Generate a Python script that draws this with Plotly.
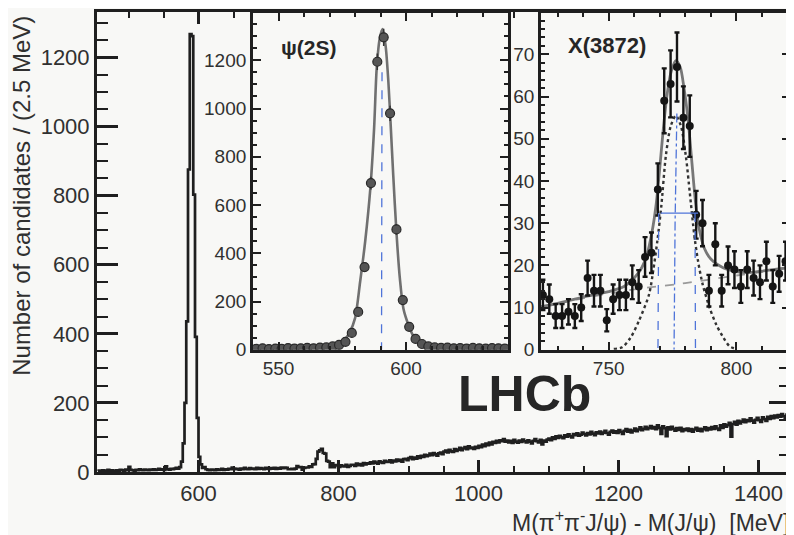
import numpy as np
import plotly.graph_objects as go

# ---------------- main histogram: M(pi pi J/psi) - M(J/psi), 2.5 MeV bins from 455 MeV ----------------
main_bin_start = 455.0
bin_width = 2.5

main_counts_low = [3, 4, 2, 5, 3, 4, 6, 3, 5, 4, 3, 5, 4, 6, 5, 4, 7, 5, 15, 6,
                   5, 4, 6, 5, 8, 6, 5, 7, 6, 5, 7, 6, 8, 6, 7, 9, 7, 8, 6, 16,
                   8, 7, 9, 8, 10, 12]
main_counts_psi = [10, 14, 30, 83, 200, 436, 876, 1268, 1262, 803, 391, 157, 44, 22, 12]
main_counts_mid = [14, 8, 6, 5, 7, 6, 5, 8, 6, 7, 9, 6, 8, 7, 9, 8, 13, 10, 8, 9,
                   7, 10, 8, 12, 9, 8, 11, 9, 10, 8, 12, 9, 11, 10, 8, 12, 10, 9, 11, 10,
                   12, 9, 11, 10, 13, 11]
main_counts_high = [21, 18, 24, 20, 23, 19, 26, 22, 25, 24,
                    28, 25, 30, 27, 24, 31, 28, 26, 32, 29,
                    30, 34, 28, 33, 31, 36, 32, 35, 30, 37,
                    38, 34, 40, 43, 37, 42, 39, 45, 41, 47,
                    44, 50, 46, 48, 53, 49, 55, 51, 47, 54,
                    56, 52, 59, 62, 57, 64, 60, 58, 66, 61,
                    65, 70, 63, 68, 72, 66, 74, 69, 71, 67,
                    73, 70, 76, 72, 79, 75, 82, 78, 85, 80,
                    87, 84, 90, 86, 92, 89, 95, 88, 91, 86,
                    90, 84, 93, 88, 85, 91, 87, 94, 89, 86,
                    92, 88, 83, 90, 95, 89, 86, 93, 80, 91,
                    88, 94, 97, 92, 100, 96, 103, 99, 105, 101,
                    98, 106, 102, 109, 104, 100, 110, 107, 112, 105,
                    108, 114, 110, 106, 113, 109, 116, 111, 107, 115,
                    112, 117, 110, 114, 119, 113, 108, 116, 120, 114,
                    118, 113, 121, 116, 110, 119, 124, 117, 122, 115,
                    120, 126, 118, 123, 129, 121, 125, 131, 124, 128,
                    133, 126, 130, 124, 135, 128, 110, 132, 127, 104,
                    129, 123, 131, 125, 120, 127, 122, 128, 118, 124,
                    121, 126, 119, 124, 117, 123, 128, 120, 125, 118,
                    124, 129, 121, 127, 123, 130, 125, 132, 126, 122,
                    135, 128, 138, 131, 136, 142, 102, 139, 145, 137,
                    148, 141, 146, 152, 144, 150, 147, 155, 149, 143,
                    151, 157, 150, 145, 158, 153, 148, 160, 154, 162,
                    156, 163, 158, 165, 160, 168, 162, 157, 166, 170]

# ---------------- inset 1: psi(2S) ----------------
psi_bin_start = 540.0
psi_counts = [4, 6, 3, 5, 4, 7, 5, 6, 8, 6, 9, 10, 14, 20, 33, 70, 157, 343, 691, 1194,
              1295, 980, 499, 206, 95, 45, 24, 14, 10, 8, 9, 6, 7, 5, 8, 6, 5, 7, 6, 5]
psi_fit_x = [540, 555, 565, 570, 574, 576, 578, 580, 582, 584, 586, 587.5, 588.5, 589.7, 590.8,
             592, 593.1, 594, 595, 596.3, 597.6, 599, 601, 603, 605.5, 609, 613, 625, 640]
psi_fit_y = [4, 5, 9, 15, 25, 42, 74, 130, 281, 450, 667, 920, 1164, 1290, 1329,
             1260, 1109, 930, 723, 480, 295, 170, 102, 55, 33, 15, 8, 5, 4]

# ---------------- inset 2: X(3872) ----------------
x_bin_start = 723.0
x_counts = [13, 12, 8, 8, 9, 8, 10, 17, 14, 14, 7, 12, 13, 13, 16, 15, 22, 23, 38, 59,
            63, 67, 55, 53, 32, 30, 14, 25, 14, 20, 19, 15, 19, 17, 16, 21, 15, 18, 21]
x_total_x = [723.5, 730, 740, 750, 756, 760, 763, 765, 767, 768.5, 770, 771.5, 773, 774.5, 776.3,
             778, 779.5, 781, 782.5, 784, 785.5, 787.5, 790, 795, 800, 805, 812, 821]
x_total_y = [10.2, 11, 12.5, 13.8, 15, 17, 19.5, 22.5, 28, 34, 43, 53, 61, 66, 68.5,
             67, 62, 55, 45, 35, 28.5, 24, 21.5, 19.4, 18.5, 18.3, 18.8, 19.5]
x_signal_x = [752, 755.3, 758.5, 761.8, 765.8, 767.5, 769.1, 770.6, 772.4, 774.3, 776.3,
              778.3, 780.2, 781.8, 783.5, 785, 786.8, 789.5, 792.1, 795, 797.4, 800]
x_signal_y = [0.2, 0.6, 2.8, 6.8, 13.1, 19, 26, 34, 46, 53, 55.5,
              53, 46, 37, 27.3, 21, 15.5, 10, 6, 2.8, 0.8, 0.2]
x_bkg_x = [723.5, 740, 760, 780, 800, 821]
x_bkg_y = [10, 12.2, 14.3, 15.8, 17.6, 19.3]

# ---------------- hand-drawn pen marks on the scanned page ----------------
pen_psi_x = [590.6, 590.4]
pen_psi_y = [1150, 0]
pen_x_centre_x = [776.7, 776.0, 775.6]
pen_x_centre_y = [56, 30, 0]
pen_x_half_x = [770.4, 785.0]
pen_x_half_y = [32.4, 32.4]
pen_x_left_x = [769.6, 769.3]
pen_x_left_y = [32.4, 0]
pen_x_right_x = [783.8, 784.0]
pen_x_right_y = [32.4, -3]

FONT = "Liberation Sans"
INK = "#1f1f1f"
TXT = "#303030"
BLUE = "#4f74d9"
BG = "#f8f8f6"


def centres(start, n):
    return [start + bin_width * (i + 0.5) for i in range(n)]


main_counts = main_counts_low + main_counts_psi + main_counts_mid + x_counts + main_counts_high
main_x = centres(main_bin_start, len(main_counts))
psi_x = centres(psi_bin_start, len(psi_counts))
x_x = centres(x_bin_start, len(x_counts))

fig = go.Figure()

fig.add_trace(go.Scatter(x=main_x, y=main_counts, mode="lines",
                         line=dict(color=INK, width=2.7, shape="hvh"),
                         xaxis="x", yaxis="y", showlegend=False))

# inset 1
fig.add_trace(go.Scatter(x=psi_fit_x, y=psi_fit_y, mode="lines",
                         line=dict(color="#707070", width=2.6, shape="spline", smoothing=0.8),
                         xaxis="x2", yaxis="y2", showlegend=False))
fig.add_trace(go.Scatter(x=psi_x, y=psi_counts, mode="markers",
                         marker=dict(size=9, color="#555555", line=dict(color="#2a2a2a", width=1.2)),
                         error_y=dict(type="data", array=list(np.sqrt(psi_counts)), color="#333",
                                      thickness=1.5, width=0),
                         xaxis="x2", yaxis="y2", showlegend=False))
fig.add_trace(go.Scatter(x=pen_psi_x, y=pen_psi_y, mode="lines",
                         line=dict(color=BLUE, width=1.3, dash="dash"),
                         xaxis="x2", yaxis="y2", showlegend=False))

# inset 2
fig.add_trace(go.Scatter(x=x_bkg_x, y=x_bkg_y, mode="lines",
                         line=dict(color="#9a9a9a", width=1.8, dash="dash", shape="spline"),
                         xaxis="x3", yaxis="y3", showlegend=False))
fig.add_trace(go.Scatter(x=x_signal_x, y=x_signal_y, mode="lines",
                         line=dict(color="#333333", width=2.4, dash="dot", shape="spline", smoothing=0.8),
                         xaxis="x3", yaxis="y3", showlegend=False))
fig.add_trace(go.Scatter(x=x_total_x, y=x_total_y, mode="lines",
                         line=dict(color="#777777", width=2.8, shape="spline", smoothing=0.8),
                         xaxis="x3", yaxis="y3", showlegend=False))
fig.add_trace(go.Scatter(x=x_x, y=x_counts, mode="markers",
                         marker=dict(size=8, color="#151515"),
                         error_y=dict(type="data", array=list(np.sqrt(x_counts)), color="#151515",
                                      thickness=2.4, width=2.5),
                         xaxis="x3", yaxis="y3", showlegend=False))
for px, py, dash in [(pen_x_centre_x, pen_x_centre_y, "dashdot"),
                     (pen_x_half_x, pen_x_half_y, "solid"),
                     (pen_x_left_x, pen_x_left_y, "dash"),
                     (pen_x_right_x, pen_x_right_y, "dash")]:
    fig.add_trace(go.Scatter(x=px, y=py, mode="lines", line=dict(color=BLUE, width=1.3, dash=dash),
                             xaxis="x3", yaxis="y3", showlegend=False, cliponaxis=False))

# the page places the figure 8 px from the top-left corner of the window
OFF = 8
W, H = 794 - OFF, 535 - OFF
L, R, T, B = 97 - OFF, 794 - 790, 9 - OFF, 535 - 472
pw, ph = W - L - R, H - T - B


def fx(px):
    return (px - OFF - L) / pw


def fy(py):
    return (H - B - (py - OFF)) / ph


axis_common = dict(showline=True, linecolor=INK, mirror="ticks", ticks="inside",
                   tickcolor=INK, showgrid=False, zeroline=False)

fig.update_layout(
    width=W, height=H,
    margin=dict(l=L, r=R, t=T, b=B),
    paper_bgcolor=BG, plot_bgcolor=BG,
    font=dict(family=FONT, color=TXT),
    xaxis=dict(axis_common, domain=[0, 1], anchor="y", range=[455, 1445], tick0=0, dtick=200,
               ticklen=12, tickwidth=2.5, linewidth=3, tickfont=dict(family=FONT, size=22, color=TXT),
               minor=dict(ticks="inside", dtick=50, tick0=0, ticklen=6, tickwidth=2, tickcolor=INK)),
    yaxis=dict(axis_common, domain=[0, 1], anchor="x", range=[0, 1332], tick0=0, dtick=200,
               ticklen=21, tickwidth=2.5, linewidth=3, tickfont=dict(family=FONT, size=22, color=TXT),
               minor=dict(ticks="inside", dtick=50, tick0=0, ticklen=11, tickwidth=2, tickcolor=INK)),
    xaxis2=dict(axis_common, domain=[fx(253), fx(508)], anchor="y2", range=[540, 640], tick0=0, dtick=50,
                ticklen=8, tickwidth=2, linewidth=2.8, tickfont=dict(family=FONT, size=19, color=TXT),
                minor=dict(ticks="inside", dtick=10, tick0=0, ticklen=4, tickwidth=1.6, tickcolor=INK)),
    yaxis2=dict(axis_common, domain=[fy(349), fy(10)], anchor="x2", range=[0, 1396], tick0=0, dtick=200,
                ticklen=8, tickwidth=2, linewidth=2.8, tickfont=dict(family=FONT, size=19, color=TXT),
                minor=dict(ticks="inside", dtick=50, tick0=0, ticklen=4, tickwidth=1.6, tickcolor=INK)),
    xaxis3=dict(axis_common, domain=[fx(541), 1], anchor="y3", range=[723.5, 821], tick0=0, dtick=50,
                ticklen=8, tickwidth=2, linewidth=2.8, tickfont=dict(family=FONT, size=19, color=TXT),
                minor=dict(ticks="inside", dtick=10, tick0=0, ticklen=4, tickwidth=1.6, tickcolor=INK)),
    yaxis3=dict(axis_common, domain=[fy(349), fy(10)], anchor="x3", range=[0, 79.8], tick0=0, dtick=10,
                ticklen=8, tickwidth=2, linewidth=2.8, tickfont=dict(family=FONT, size=19, color=TXT),
                minor=dict(ticks="inside", dtick=2, tick0=0, ticklen=4, tickwidth=1.6, tickcolor=INK)),
    annotations=[
        dict(text="Number of candidates / (2.5 MeV)", xref="paper", yref="paper",
             x=fx(22), y=fy(194), textangle=-90, showarrow=False,
             font=dict(family=FONT, size=24, color=TXT), xanchor="center", yanchor="middle"),
        dict(text="M(π<sup>+</sup>π<sup>-</sup>J/ψ) - M(J/ψ) \u00a0[MeV]", xref="paper", yref="paper",
             x=fx(791), y=fy(521), showarrow=False, xanchor="right", yanchor="middle",
             font=dict(family=FONT, size=23, color=TXT)),
        dict(text="<b>LHCb</b>", xref="paper", yref="paper", x=fx(524), y=fy(393), showarrow=False,
             xanchor="center", yanchor="middle", font=dict(family=FONT, size=50, color="#262626")),
        dict(text="<b>ψ(2S)</b>", xref="paper", yref="paper", x=fx(279), y=fy(45), showarrow=False,
             xanchor="left", yanchor="middle", font=dict(family=FONT, size=21, color="#262626")),
        dict(text="<b>X(3872)</b>", xref="paper", yref="paper", x=fx(566), y=fy(43), showarrow=False,
             xanchor="left", yanchor="middle", font=dict(family=FONT, size=22, color="#262626")),
    ],
)

fig.write_html("out.html")
